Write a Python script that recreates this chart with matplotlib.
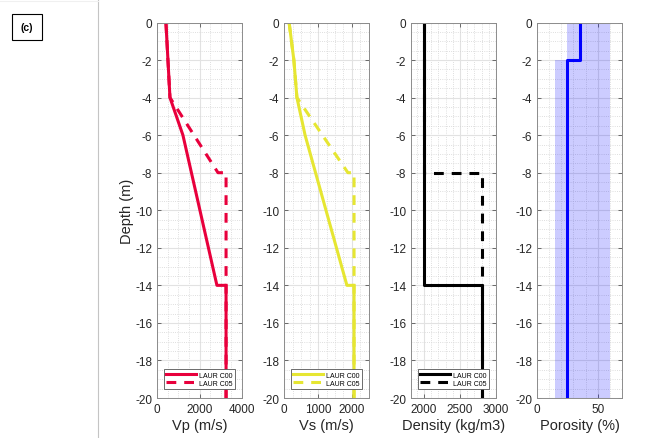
import matplotlib
matplotlib.use('Agg')
import matplotlib.pyplot as plt
from matplotlib.ticker import MultipleLocator
from matplotlib.lines import Line2D

plt.rcParams['font.family'] = ['Liberation Sans', 'DejaVu Sans']
plt.rcParams['axes.unicode_minus'] = False

# Velocity / density / porosity profiles (depth in m)
depth_c00_vp = [0, -4, -6, -14, -14, -20]
vp_c00 = [420, 610, 1220, 2820, 3250, 3250]
depth_c05_vp = [0, -4, -8, -8, -20]
vp_c05 = [420, 610, 2870, 3250, 3250]

depth_c00_vs = [0, -2, -4, -6, -14, -14, -20]
vs_c00 = [150, 290, 380, 620, 1850, 2060, 2060]
depth_c05_vs = [0, -2, -4, -8, -8, -20]
vs_c05 = [150, 290, 380, 1880, 2060, 2060]

depth_c00_rho = [0, -14, -14, -20]
rho_c00 = [2000, 2000, 2800, 2800]
depth_c05_rho = [0, -8, -8, -20]
rho_c05 = [2000, 2000, 2800, 2800]

depth_phi = [0, -2, -2, -20]
phi = [35, 35, 25, 25]
phi_low = [25, 25, 15, 15]
phi_high = [60, 60, 60, 60]

labels = ['LAUR C00', 'LAUR C05']

red = '#e8003c'
yellow = '#e6e632'

fig = plt.figure(figsize=(6.52, 4.39), dpi=100)

lefts = [157, 284, 411, 537]
W, H = 652, 439
axes = []
for l in lefts:
    ax = fig.add_axes([l / W, 1 - 399 / H, 85 / W, (399 - 23.5) / H])
    axes.append(ax)


def style(ax, xlim, xmajor, xminor, xlabel):
    ax.set_xlim(xlim)
    ax.set_ylim(-20, 0)
    ax.xaxis.set_major_locator(MultipleLocator(xmajor))
    ax.xaxis.set_minor_locator(MultipleLocator(xminor))
    ax.yaxis.set_major_locator(MultipleLocator(2))
    ax.yaxis.set_minor_locator(MultipleLocator(0.5))
    ax.grid(True, which='major', color='#e2e2e2', linewidth=0.8)
    ax.grid(True, which='minor', color='#d4d4d4', linestyle=':', linewidth=0.6)
    ax.set_axisbelow(True)
    ax.tick_params(which='major', direction='in', length=3, top=True, right=True,
                   labelsize=8.5, colors='#555555', labelcolor='#262626', width=0.6)
    ax.tick_params(which='minor', length=0)
    for s in ax.spines.values():
        s.set_color('#8c8c8c')
        s.set_linewidth(0.7)
    ax.set_xlabel(xlabel, fontsize=10.5, color='#262626', labelpad=2)


dash = (3.2, 2.6)

ax = axes[0]
ax.plot(vp_c00, depth_c00_vp, color=red, lw=2.2, label=labels[0])
ax.plot(vp_c05, depth_c05_vp, color=red, lw=2.2, dashes=dash, label=labels[1])
style(ax, (0, 4000), 2000, 500, 'Vp (m/s)')
ax.set_ylabel('Depth (m)', fontsize=10.5, color='#262626', labelpad=1)

ax = axes[1]
ax.plot(vs_c00, depth_c00_vs, color=yellow, lw=2.2, label=labels[0])
ax.plot(vs_c05, depth_c05_vs, color=yellow, lw=2.2, dashes=dash, label=labels[1])
style(ax, (0, 2500), 1000, 250, 'Vs (m/s)')

ax = axes[2]
ax.plot(rho_c00, depth_c00_rho, color='black', lw=2.2, label=labels[0])
ax.plot(rho_c05, depth_c05_rho, color='black', lw=2.2, dashes=dash, label=labels[1])
style(ax, (1820, 3000), 500, 100, 'Density (kg/m3)')

ax = axes[3]
ax.fill_betweenx(depth_phi, phi_low, phi_high, color='blue', alpha=0.2, linewidth=0)
ax.plot(phi, depth_phi, color='blue', lw=2.2)
style(ax, (0, 70), 50, 10, 'Porosity (%)')

for ax in axes[:3]:
    leg = ax.legend(loc='lower center', fontsize=5, handlelength=4.3, fancybox=False,
                    framealpha=1, edgecolor='#555555', borderpad=0.3, labelspacing=0.2,
                    handletextpad=0.5, borderaxespad=0, bbox_to_anchor=(0.5, 0.024))
    leg.get_frame().set_linewidth(0.6)

# panel tag and divider
fig.text(27 / W, 1 - 28 / H, '(c)', fontsize=7.5, fontweight='bold', ha='center', va='center',
         bbox=dict(boxstyle='square,pad=0.8', facecolor='white', edgecolor='black', linewidth=0.8))
fig.add_artist(Line2D([98 / W, 98 / W], [0, 1], color='#c4c4c4', lw=0.8))
fig.add_artist(Line2D([0, 98 / W], [1 - 2 / H, 1 - 2 / H], color='#f0f0f0', lw=0.8))

fig.savefig('out.png', dpi=100)
